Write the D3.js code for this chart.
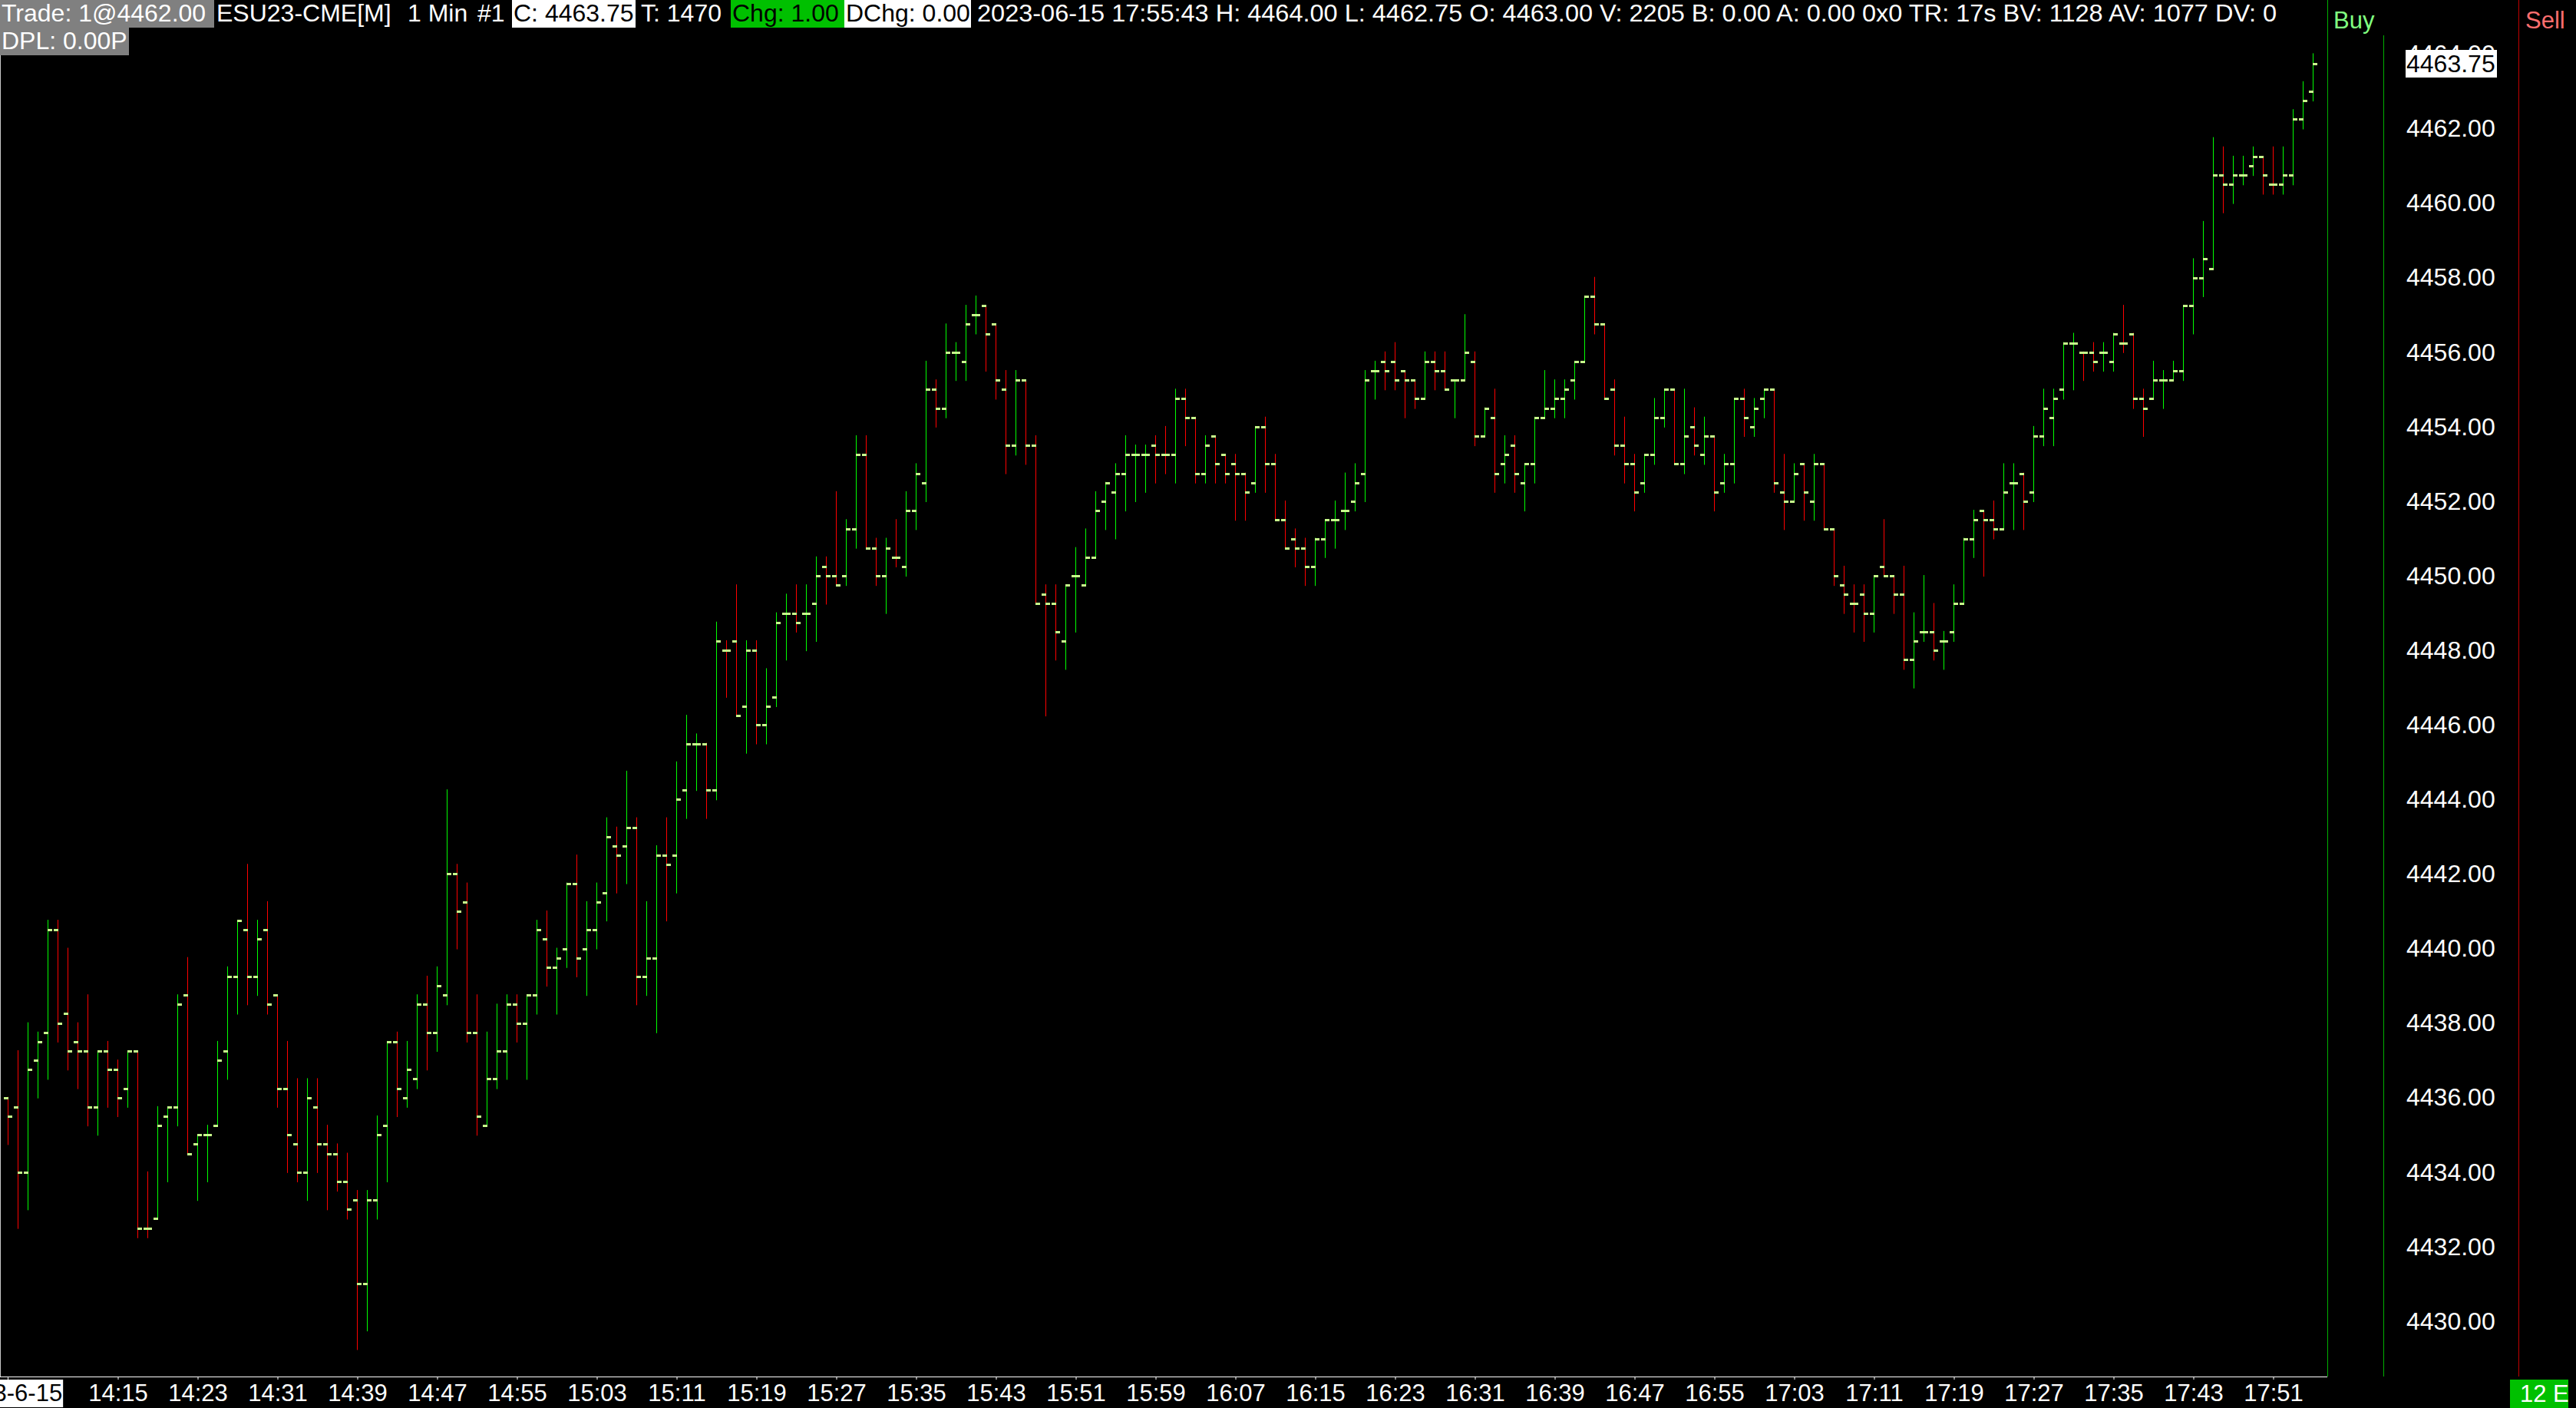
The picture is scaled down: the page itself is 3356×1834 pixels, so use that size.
<!DOCTYPE html>
<html><head><meta charset="utf-8">
<script src="https://cdn.jsdelivr.net/npm/d3@7"></script>
<style>
html,body{margin:0;padding:0;background:#000;overflow:hidden}
svg{display:block}
text{font-family:"Liberation Sans",Arial,sans-serif}
</style>
</head><body>
<svg id="c" width="3356" height="1834"></svg>
<script>
// ---------------- DATA ----------------
const firstBarTime = "14:04";
const dateLabel = "2023-6-15";
const barOpen = [
4436.00,4435.75,4434.00,4437.00,4437.75,4440.50,4438.25,4437.50,4437.25,4435.75,
4437.25,4436.75,4436.25,4437.25,4432.50,4432.75,4435.50,4435.75,4438.75,4434.75,
4435.00,4435.25,4437.25,4439.25,4440.50,4439.25,4440.50,4438.75,4436.25,4434.75,
4434.00,4435.75,4434.75,4434.50,4433.75,4433.25,4431.00,4433.25,4435.25,4437.50,
4436.00,4436.50,4438.50,4437.75,4438.75,4442.00,4441.25,4437.75,4435.25,4436.50,
4437.25,4438.50,4438.00,4438.75,4440.25,4439.50,4440.00,4441.75,4440.00,4440.50,
4441.50,4442.75,4442.75,4443.25,4439.25,4439.75,4442.50,4442.50,4444.25,4445.50,
4445.50,4444.25,4448.00,4448.25,4446.50,4448.00,4446.00,4446.75,4449.00,4449.00,
4449.00,4449.25,4450.25,4450.00,4450.00,4451.25,4453.25,4450.75,4450.00,4450.50,
4450.25,4451.75,4452.50,4455.00,4454.50,4456.00,4455.75,4457.00,4457.25,4456.75,
4455.00,4453.50,4455.25,4453.50,4449.50,4449.25,4448.25,4450.00,4449.75,4450.50,
4452.00,4452.25,4452.75,4453.25,4453.25,4453.50,4453.25,4453.25,4454.75,4454.25,
4452.75,4453.75,4453.25,4453.00,4452.75,4452.50,4454.00,4453.00,4451.50,4451.00,
4450.75,4450.25,4451.00,4451.50,4451.75,4452.00,4452.75,4455.50,4455.75,4455.75,
4455.50,4455.25,4454.75,4455.75,4455.50,4455.25,4455.25,4455.75,4453.75,4454.25,
4453.00,4453.50,4452.50,4453.00,4454.25,4454.50,4454.75,4455.25,4455.75,4457.50,
4456.75,4455.00,4453.50,4453.00,4452.50,4453.25,4454.25,4455.00,4453.00,4454.00,
4453.25,4453.75,4452.50,4453.00,4454.75,4454.00,4454.75,4455.00,4452.25,4452.00,
4453.00,4452.00,4453.00,4451.25,4449.75,4449.25,4449.50,4449.00,4450.25,4450.00,
4449.50,4447.75,4448.50,4448.50,4448.25,4448.50,4449.25,4451.00,4451.75,4451.50,
4451.25,4452.50,4452.75,4452.25,4453.75,4454.25,4455.00,4456.25,4456.00,4456.00,
4456.00,4455.75,4456.25,4456.50,4454.75,4454.75,4455.25,4455.25,4455.50,4457.25,
4458.00,4458.25,4460.75,4460.50,4460.75,4461.00,4461.25,4460.50,4460.50,4460.75,
4462.25,4463.00];
const barHigh = [
4436.00,4437.25,4438.00,4437.75,4440.75,4440.75,4440.00,4438.00,4438.75,4437.25,
4437.50,4437.00,4437.25,4437.25,4434.00,4435.75,4435.75,4438.75,4439.75,4435.00,
4435.25,4437.50,4439.50,4440.75,4442.25,4440.75,4441.25,4438.75,4437.50,4436.50,
4436.50,4436.50,4435.25,4434.75,4434.50,4433.50,4433.50,4435.50,4437.50,4437.75,
4437.50,4438.75,4439.25,4439.50,4444.25,4442.25,4441.75,4438.75,4437.75,4438.50,
4438.75,4438.75,4438.75,4440.75,4441.00,4440.00,4441.75,4442.50,4441.25,4441.75,
4443.50,4443.25,4444.75,4443.50,4441.25,4442.75,4443.50,4445.00,4446.25,4445.75,
4445.50,4448.75,4448.25,4449.75,4448.25,4448.25,4447.50,4449.00,4449.50,4449.75,
4449.75,4450.50,4450.50,4452.25,4451.50,4453.75,4453.75,4451.00,4451.00,4451.50,
4452.25,4453.00,4455.75,4455.25,4456.75,4456.25,4457.25,4457.50,4457.25,4456.75,
4455.50,4455.50,4455.25,4453.75,4449.75,4449.75,4449.75,4450.75,4451.25,4452.25,
4452.50,4453.00,4453.75,4453.50,4453.50,4453.75,4454.00,4455.00,4455.00,4454.25,
4453.75,4453.75,4453.25,4453.25,4452.75,4454.00,4454.25,4453.25,4452.00,4451.25,
4451.00,4451.00,4451.50,4452.00,4452.75,4453.00,4455.50,4455.75,4456.00,4456.25,
4455.50,4455.25,4456.00,4456.00,4456.00,4455.25,4457.00,4456.00,4454.50,4455.00,
4453.75,4453.75,4453.00,4454.25,4455.50,4455.25,4455.25,4455.75,4457.50,4458.00,
4456.75,4455.25,4454.25,4453.25,4453.25,4454.75,4455.00,4455.00,4455.00,4454.50,
4454.25,4453.75,4453.25,4454.75,4455.00,4454.75,4455.00,4455.00,4453.25,4453.00,
4453.00,4453.25,4453.00,4451.25,4450.25,4449.75,4449.75,4450.00,4451.50,4450.00,
4450.25,4449.00,4450.00,4449.25,4448.50,4449.75,4451.00,4451.75,4451.75,4452.00,
4453.00,4453.00,4452.75,4454.00,4455.00,4455.00,4456.25,4456.50,4456.00,4456.25,
4456.25,4456.50,4457.25,4456.50,4455.00,4455.75,4455.50,4455.75,4457.25,4458.50,
4459.50,4461.75,4461.50,4461.25,4461.25,4461.50,4461.25,4461.50,4461.50,4462.50,
4463.25,4464.00];
const barLow = [
4434.75,4432.50,4433.00,4436.00,4436.50,4437.50,4436.75,4436.25,4435.25,4435.00,
4435.75,4435.50,4435.75,4432.25,4432.25,4432.75,4433.75,4435.25,4434.50,4433.25,
4433.75,4435.25,4436.50,4438.25,4438.50,4438.75,4438.25,4435.75,4434.00,4433.75,
4433.25,4434.00,4433.00,4433.50,4432.75,4429.25,4429.75,4432.75,4433.75,4435.50,
4435.75,4436.25,4436.75,4437.25,4438.50,4440.00,4437.50,4435.00,4435.25,4436.25,
4436.50,4437.50,4436.50,4438.25,4439.00,4438.25,4439.50,4439.25,4438.75,4440.00,
4440.75,4441.50,4441.75,4438.50,4438.75,4437.75,4440.75,4441.50,4443.50,4444.25,
4443.50,4444.00,4446.75,4446.25,4445.25,4445.50,4445.50,4446.50,4447.75,4448.50,
4448.00,4448.25,4449.25,4449.75,4449.75,4450.75,4450.75,4449.75,4449.00,4450.25,
4450.00,4451.25,4452.00,4454.00,4454.25,4455.25,4455.25,4456.50,4455.50,4454.75,
4452.75,4453.25,4453.00,4449.25,4446.25,4447.75,4447.50,4448.50,4449.75,4450.50,
4451.25,4451.00,4451.75,4452.00,4452.25,4452.50,4452.75,4452.50,4453.50,4452.50,
4452.50,4452.50,4452.50,4451.50,4451.50,4452.25,4452.25,4451.50,4450.75,4450.25,
4449.75,4449.75,4450.50,4450.75,4451.25,4451.75,4452.00,4454.75,4455.00,4455.00,
4454.25,4454.50,4454.75,4455.00,4455.00,4454.25,4455.25,4453.50,4453.75,4452.25,
4452.50,4452.25,4451.75,4452.50,4454.25,4454.25,4454.25,4454.75,4455.75,4456.50,
4454.75,4453.25,4452.50,4451.75,4452.25,4453.00,4454.00,4453.00,4452.75,4453.25,
4453.00,4451.75,4452.25,4452.50,4453.75,4453.75,4454.25,4452.25,4451.25,4452.00,
4451.50,4451.50,4451.25,4449.75,4449.00,4448.50,4448.25,4448.50,4450.00,4449.00,
4447.50,4447.00,4448.25,4447.75,4447.50,4448.25,4449.25,4450.50,4450.00,4451.00,
4451.25,4451.25,4451.25,4452.00,4453.50,4453.50,4454.75,4455.00,4455.25,4455.50,
4455.50,4455.50,4456.00,4454.50,4453.75,4454.75,4454.50,4455.25,4455.25,4456.50,
4457.50,4458.25,4459.75,4460.00,4460.50,4460.75,4460.25,4460.25,4460.25,4460.50,
4462.00,4462.75];
const barClose = [
4435.50,4434.00,4436.75,4437.50,4440.50,4438.00,4437.25,4437.25,4435.75,4437.25,
4436.75,4436.00,4437.25,4432.50,4432.50,4435.25,4435.75,4438.50,4434.50,4435.00,
4435.00,4437.00,4439.25,4440.75,4439.25,4440.25,4438.50,4436.25,4435.00,4434.00,
4436.00,4434.75,4434.50,4433.75,4433.00,4431.00,4433.25,4435.00,4437.50,4436.25,
4436.75,4438.50,4437.75,4439.00,4442.00,4441.00,4437.75,4435.50,4436.50,4437.25,
4438.50,4438.00,4438.75,4440.50,4439.50,4439.75,4441.75,4439.75,4440.50,4441.25,
4443.00,4442.50,4443.25,4439.25,4439.75,4442.50,4442.25,4444.00,4445.50,4445.50,
4444.25,4448.25,4448.00,4446.25,4448.00,4446.00,4446.50,4448.75,4449.00,4448.75,
4449.00,4450.00,4450.00,4449.75,4451.25,4453.25,4450.75,4450.00,4450.75,4450.50,
4451.75,4452.75,4455.00,4454.50,4456.00,4456.00,4456.75,4457.00,4456.50,4455.25,
4453.50,4455.25,4453.50,4449.25,4449.25,4448.50,4449.75,4450.00,4450.50,4451.75,
4452.50,4452.75,4453.25,4453.25,4453.25,4453.25,4453.25,4454.75,4454.25,4452.75,
4453.50,4453.00,4452.75,4452.75,4452.25,4454.00,4453.00,4451.50,4450.75,4450.75,
4450.25,4451.00,4451.50,4451.50,4451.75,4452.50,4455.25,4455.50,4455.50,4455.25,
4455.25,4454.75,4455.75,4455.50,4455.00,4455.25,4456.00,4453.75,4454.50,4452.75,
4453.25,4452.75,4453.00,4454.25,4454.50,4454.75,4455.00,4455.75,4457.50,4456.75,
4454.75,4453.50,4453.00,4452.25,4453.25,4454.25,4455.00,4453.00,4453.75,4453.50,
4453.75,4452.25,4453.00,4454.75,4454.25,4454.50,4455.00,4452.50,4452.00,4452.75,
4452.25,4453.00,4451.25,4450.00,4449.50,4449.25,4449.00,4450.00,4450.00,4449.50,
4447.75,4448.25,4448.50,4448.00,4448.25,4449.25,4451.00,4451.50,4451.50,4451.25,
4452.25,4452.50,4452.00,4453.75,4454.50,4454.75,4456.25,4456.25,4456.00,4455.75,
4456.00,4456.50,4456.25,4454.75,4454.50,4455.25,4455.25,4455.50,4457.25,4458.00,
4458.50,4460.75,4460.50,4460.75,4460.75,4461.25,4460.75,4460.50,4460.75,4462.25,
4462.75,4463.75];
const timeTickLabels = ["14:15","14:23","14:31","14:39","14:47","14:55","15:03","15:11","15:19","15:27",
  "15:35","15:43","15:51","15:59","16:07","16:15","16:23","16:31","16:39","16:47","16:55","17:03",
  "17:11","17:19","17:27","17:35","17:43","17:51"];
const priceTickLabels = [4430,4432,4434,4436,4438,4440,4442,4444,4446,4448,4450,4452,4454,4456,4458,4460,4462,4464];
const lastPrice = 4463.75;
const headerRow1 = ["Trade: 1@4462.00","ESU23-CME[M]","1 Min","#1","C: 4463.75","T: 1470","Chg: 1.00","DChg: 0.00",
  "2023-06-15 17:55:43 H: 4464.00 L: 4462.75 O: 4463.00 V: 2205 B: 0.00 A: 0.00 0x0 TR: 17s BV: 1128 AV: 1077 DV: 0"];
const headerRow2 = ["DPL: 0.00P"];
const sideLabels = ["Buy","Sell","12 E"];

// ---------------- DRAW ----------------
const svg = d3.select("#c");
svg.append("rect").attr("width",3356).attr("height",1834).attr("fill","#000");

const parse = d3.timeParse("%H:%M");
const t0 = parse(firstBarTime);
const barTimes = barClose.map((_, i) => d3.timeMinute.offset(t0, i));
const x = d3.scaleTime().domain([barTimes[0], barTimes[barTimes.length-1]])
  .range([10.5, 10.5 + 13*(barTimes.length-1)]);
const y = d3.scaleLinear().domain([4430, 4462]).range([1721, 167.5]);

const UP = "#00ff00", DOWN = "#ff0000", TICK = "#c8ff8c";
const colors = [];
barClose.forEach((c, i) => {
  const o = barOpen[i];
  let col;
  if (c > o) col = UP; else if (c < o) col = DOWN;
  else if (i > 0 && c > barClose[i-1]) col = UP;
  else if (i > 0 && c < barClose[i-1]) col = DOWN;
  else col = i > 0 ? colors[i-1] : UP;
  colors.push(col);
});

// frame lines
svg.append("line").attr("x1",0.5).attr("x2",0.5).attr("y1",72).attr("y2",1793).attr("stroke","#c8c8c8").attr("stroke-width",1);
svg.append("line").attr("x1",3032.5).attr("x2",3032.5).attr("y1",0).attr("y2",1793).attr("stroke","#00b000").attr("stroke-width",1);
svg.append("line").attr("x1",3105.5).attr("x2",3105.5).attr("y1",46).attr("y2",1793).attr("stroke","#00b000").attr("stroke-width",1);
svg.append("line").attr("x1",3281.5).attr("x2",3281.5).attr("y1",0).attr("y2",1793).attr("stroke","#c00000").attr("stroke-width",1);

// bars
const bars = svg.append("g");
const idx = d3.range(barClose.length);
bars.selectAll("line.hl").data(idx).join("line").attr("class","hl")
  .attr("x1", i => x(barTimes[i])).attr("x2", i => x(barTimes[i]))
  .attr("y1", i => y(barHigh[i]) - 1).attr("y2", i => y(barLow[i]) + 1)
  .attr("stroke", i => colors[i]).attr("stroke-width", 1);
bars.selectAll("rect.op").data(idx).join("rect").attr("class","op")
  .attr("x", i => x(barTimes[i]) - 5.5).attr("width", 6)
  .attr("y", i => Math.round(y(barOpen[i])) - 1).attr("height", 3).attr("fill", TICK);
bars.selectAll("rect.cl").data(idx).join("rect").attr("class","cl")
  .attr("x", i => x(barTimes[i]) - 0.5).attr("width", 6)
  .attr("y", i => Math.round(y(barClose[i])) - 1).attr("height", 3).attr("fill", TICK);

// x axis
svg.append("line").attr("x1",0).attr("x2",3032).attr("y1",1793.5).attr("y2",1793.5).attr("stroke","#fff").attr("stroke-width",1);
const tickTimes = timeTickLabels.map(parse);
const xAxis = d3.axisBottom(x).tickValues(tickTimes).tickFormat(d3.timeFormat("%H:%M")).tickSize(4).tickPadding(6).tickSizeOuter(0);
const gx = svg.append("g").attr("transform","translate(0,1793)").call(xAxis);
gx.select(".domain").remove();
gx.selectAll(".tick line").attr("stroke","#fff");
gx.selectAll(".tick text").attr("fill","#fff").style("font-size","31px").style("font-family","'Liberation Sans',Arial,sans-serif");
// date label at first bar
const dx = x(barTimes[0]);
svg.append("line").attr("x1",dx).attr("x2",dx).attr("y1",1793).attr("y2",1797).attr("stroke","#fff");
const dt = svg.append("text").attr("x",dx).attr("y",1825).attr("text-anchor","middle").attr("fill","#000")
  .style("font-size","31px").text(dateLabel);
const bb = dt.node().getBBox();
svg.insert("rect", () => dt.node()).attr("x", bb.x - 1).attr("y", 1797).attr("width", bb.width + 2).attr("height", 36).attr("fill","#fff");

// price axis
const yAxis = d3.axisRight(d3.scaleLinear().domain(y.domain()).range(y.range()))
  .tickValues(priceTickLabels).tickFormat(d3.format(".2f")).tickSize(0).tickPadding(0);
const gy = svg.append("g").attr("transform","translate(3135,0)").call(yAxis);
gy.select(".domain").remove();
gy.selectAll(".tick text").attr("fill","#fff").style("font-size","32px").style("font-family","'Liberation Sans',Arial,sans-serif");

// last price box
const ly = y(lastPrice);
svg.append("rect").attr("x",3134).attr("y",Math.round(ly)-18).attr("width",119).attr("height",36).attr("fill","#fff");
svg.append("text").attr("x",3135).attr("y",ly).attr("dy","0.35em").attr("fill","#000").style("font-size","32px").text(d3.format(".2f")(lastPrice));

// header
function hseg(xp, row, txt, color, bg, bx0, bx1, len) {
  const y0 = row * 36;
  if (bg) svg.append("rect").attr("x",bx0).attr("y",y0).attr("width",bx1-bx0).attr("height",36).attr("fill",bg);
  const t = svg.append("text").attr("x",xp).attr("y",y0+28).attr("fill",color).style("font-size","32px").text(txt);
  if (len) t.attr("textLength",len).attr("lengthAdjust","spacingAndGlyphs");
}
hseg(2, 0, headerRow1[0], "#fff", "#808080", 0, 279);
hseg(282, 0, headerRow1[1], "#fff");
hseg(531, 0, headerRow1[2], "#fff");
hseg(622, 0, headerRow1[3], "#fff");
hseg(669, 0, headerRow1[4], "#000", "#fff", 667, 828);
hseg(835, 0, headerRow1[5], "#fff");
hseg(954, 0, headerRow1[6], "#000", "#00c000", 952, 1100);
hseg(1102, 0, headerRow1[7], "#000", "#fff", 1100, 1265);
hseg(1273, 0, headerRow1[8], "#fff", null, 0, 0, 1693);
hseg(2, 1, headerRow2[0], "#fff", "#808080", 0, 168);

// side labels
svg.append("text").attr("x",3040).attr("y",37).attr("fill","#80ff80").style("font-size","31px").text(sideLabels[0]);
svg.append("text").attr("x",3290).attr("y",37).attr("fill","#ff6e6e").style("font-size","31px").text(sideLabels[1]);
svg.append("rect").attr("x",3270).attr("y",1797).attr("width",76).attr("height",37).attr("fill","#00c000");
svg.append("text").attr("x",3283).attr("y",1826).attr("fill","#fff").style("font-size","31px").text(sideLabels[2]);
</script>
</body></html>
